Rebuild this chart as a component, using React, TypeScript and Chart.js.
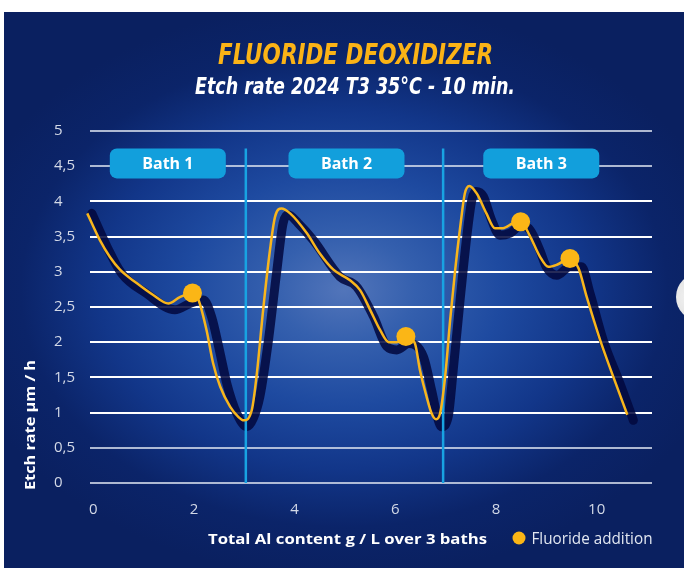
import React, { useEffect, useRef } from 'react';
import { Chart, registerables } from 'chart.js';

Chart.register(...registerables);

// ---------- data ----------
const titleText = 'FLUORIDE DEOXIDIZER';
const subtitleText = 'Etch rate 2024 T3 35°C - 10 min.';
const xAxisTitle = 'Total Al content g / L over 3 baths';
const yAxisTitle = 'Etch rate µm / h';
const legendLabel = 'Fluoride addition';

const bathLabels = ['Bath 1', 'Bath 2', 'Bath 3'];
const bathCenters = [1.48, 5.03, 8.9];
const bathBoundaries = [3.03, 6.95];

const xTicks = [0, 2, 4, 6, 8, 10];
const xTickLabels = ['0', '2', '4', '6', '8', '10'];
const yTickLabels = ['0', '0,5', '1', '1,5', '2', '2,5', '3', '3,5', '4', '4,5', '5'];

// Etch rate (yellow curve): [Al content g/L, µm/h]
const yellowCurve: [number, number][] = [
  [-0.12, 3.83], [0.13, 3.45], [0.33, 3.21], [0.53, 3.03], [0.86, 2.84], [1.19, 2.67],
  [1.49, 2.55], [1.72, 2.64], [1.97, 2.7], [2.09, 2.6], [2.25, 2.17], [2.38, 1.7],
  [2.52, 1.37], [2.72, 1.08], [2.88, 0.94], [2.99, 0.89], [3.15, 1.04], [3.25, 1.56],
  [3.38, 2.5], [3.51, 3.31], [3.61, 3.78], [3.74, 3.9], [3.91, 3.83], [4.24, 3.55],
  [4.5, 3.26], [4.77, 3.03], [5.1, 2.88], [5.3, 2.74], [5.5, 2.46], [5.7, 2.17],
  [5.87, 2.0], [6.03, 2.0], [6.21, 2.08], [6.39, 1.98], [6.49, 1.6], [6.62, 1.23],
  [6.72, 0.99], [6.81, 0.905], [6.89, 0.99], [6.99, 1.51], [7.09, 2.32], [7.19, 3.03],
  [7.29, 3.64], [7.38, 4.11], [7.47, 4.22], [7.62, 4.11], [7.81, 3.83], [7.98, 3.62],
  [8.14, 3.62], [8.34, 3.69], [8.49, 3.71], [8.68, 3.5], [8.87, 3.22], [9.04, 3.07],
  [9.21, 3.1], [9.47, 3.19], [9.64, 3.05], [9.8, 2.65], [10.07, 2.03], [10.33, 1.51],
  [10.61, 0.97],
];

// Dark shadow curve
const shadowCurve: [number, number][] = [
  [-0.03, 3.83], [0.27, 3.36], [0.56, 2.98], [1.06, 2.69], [1.62, 2.46], [1.92, 2.55],
  [2.19, 2.6], [2.35, 2.36], [2.52, 1.84], [2.65, 1.42], [2.85, 0.99], [3.05, 0.8],
  [3.18, 0.92], [3.31, 1.23], [3.48, 2.03], [3.64, 2.98], [3.77, 3.69], [3.87, 3.81],
  [4.07, 3.69], [4.37, 3.45], [4.9, 2.93], [5.23, 2.79], [5.57, 2.36], [5.83, 1.94],
  [6.03, 1.89], [6.27, 1.98], [6.56, 1.79], [6.72, 1.32], [6.85, 0.9], [6.92, 0.8],
  [7.05, 0.94], [7.15, 1.6], [7.28, 2.55], [7.42, 3.5], [7.52, 4.02], [7.6, 4.14],
  [7.75, 4.07], [7.91, 3.74], [8.08, 3.52], [8.28, 3.55], [8.5, 3.66], [8.68, 3.59],
  [8.87, 3.31], [9.0, 3.07], [9.21, 2.95], [9.47, 3.07], [9.7, 3.07], [9.87, 2.69],
  [10.13, 2.03], [10.46, 1.42], [10.73, 0.89],
];

const fluorideAdditions: [number, number][] = [
  [1.97, 2.7], [6.21, 2.08], [8.49, 3.71], [9.47, 3.19],
];

// ---------- styles ----------
const YELLOW = '#f8b51c';
const MARKER = '#fbb616';
const SHADOW = 'rgba(2, 8, 62, 0.86)';
const BATH_BLUE = '#129fdc';
const TICK_COLOR = '#d3d9e7';
const SANS = '"Open Sans", "Noto Sans", sans-serif';
const TITLE_FONT = '"Liberation Sans Narrow", "DejaVu Sans Condensed", "Open Sans", sans-serif';

function drawFitted(
  ctx: CanvasRenderingContext2D,
  text: string,
  x: number,
  y: number,
  width: number,
  align: CanvasTextAlign,
) {
  const m = ctx.measureText(text).width;
  const s = m > 0 ? width / m : 1;
  ctx.save();
  ctx.translate(x, y);
  ctx.scale(s, 1);
  ctx.textAlign = align;
  ctx.fillText(text, 0, 0);
  ctx.restore();
}

const overlayPlugin = {
  id: 'overlay',
  afterDatasetDraw(chart: any, args: any) {
    if (args.index !== 2) return;
    const { ctx, scales } = chart;
    const xs = scales.x;
    const ys = scales.y;
    ctx.save();
    ctx.strokeStyle = '#18a3e2';
    ctx.lineWidth = 2.5;
    bathBoundaries.forEach((b) => {
      const px = xs.getPixelForValue(b);
      ctx.beginPath();
      ctx.moveTo(px, ys.getPixelForValue(4.75));
      ctx.lineTo(px, ys.getPixelForValue(0));
      ctx.stroke();
    });
    ctx.restore();
  },
  afterDraw(chart: any) {
    const { ctx, scales } = chart;
    const xs = scales.x;
    const ys = scales.y;
    ctx.save();

    // bath boxes
    const cy = ys.getPixelForValue(4.54);
    bathLabels.forEach((label, i) => {
      const cx = xs.getPixelForValue(bathCenters[i]);
      const w = 116;
      const h = 30;
      ctx.fillStyle = BATH_BLUE;
      ctx.beginPath();
      (ctx as any).roundRect(cx - w / 2, cy - h / 2, w, h, 7);
      ctx.fill();
      ctx.fillStyle = '#ffffff';
      ctx.font = `bold 16px ${SANS}`;
      ctx.textBaseline = 'middle';
      ctx.textAlign = 'center';
      ctx.fillText(label, cx, cy + 1);
    });

    // titles
    ctx.textBaseline = 'alphabetic';
    ctx.fillStyle = '#fbb316';
    ctx.font = `italic bold 29px ${TITLE_FONT}`;
    drawFitted(ctx, titleText, 351.5, 51.5, 275, 'center');
    ctx.fillStyle = '#ffffff';
    ctx.font = `italic bold 23px ${TITLE_FONT}`;
    drawFitted(ctx, subtitleText, 351, 81.5, 320, 'center');

    // x axis title
    ctx.fillStyle = '#ffffff';
    ctx.font = `bold 15px ${SANS}`;
    drawFitted(ctx, xAxisTitle, 343.5, 532, 279, 'center');

    // legend
    ctx.fillStyle = MARKER;
    ctx.beginPath();
    ctx.arc(515, 526, 6.5, 0, Math.PI * 2);
    ctx.fill();
    ctx.fillStyle = '#e2e7f1';
    ctx.font = `16px ${SANS}`;
    drawFitted(ctx, legendLabel, 527.5, 532, 121, 'left');

    // y axis title
    ctx.save();
    ctx.translate(27, 413);
    ctx.rotate(-Math.PI / 2);
    ctx.fillStyle = '#ffffff';
    ctx.font = `bold 15px ${SANS}`;
    ctx.textBaseline = 'middle';
    drawFitted(ctx, yAxisTitle, 0, 0, 130, 'center');
    ctx.restore();

    ctx.restore();
  },
};

export default function App() {
  const canvasRef = useRef<HTMLCanvasElement | null>(null);

  useEffect(() => {
    if (!canvasRef.current) return;
    const toPts = (arr: [number, number][]) => arr.map(([x, y]) => ({ x, y }));
    const chart = new Chart(canvasRef.current, {
      type: 'line',
      data: {
        datasets: [
          {
            label: legendLabel,
            data: toPts(fluorideAdditions),
            showLine: false,
            pointRadius: 9.5,
            pointBackgroundColor: MARKER,
            pointBorderWidth: 0,
            order: 0,
          } as any,
          {
            label: 'Etch rate',
            data: toPts(yellowCurve),
            borderColor: YELLOW,
            borderWidth: 2.5,
            pointRadius: 0,
            cubicInterpolationMode: 'monotone',
            clip: false,
            order: 1,
          } as any,
          {
            label: 'Shadow',
            data: toPts(shadowCurve),
            borderColor: SHADOW,
            borderWidth: 9,
            borderCapStyle: 'round',
            borderJoinStyle: 'round',
            pointRadius: 0,
            cubicInterpolationMode: 'monotone',
            clip: false,
            order: 2,
          } as any,
        ],
      },
      options: {
        animation: false,
        responsive: true,
        maintainAspectRatio: false,
        layout: { padding: { left: 50, right: 32, top: 119, bottom: 45 } },
        plugins: {
          legend: { display: false },
          tooltip: { enabled: false },
          title: { display: false },
        },
        scales: {
          x: {
            type: 'linear',
            min: -0.066,
            max: 11.1,
            afterBuildTicks: (axis: any) => {
              axis.ticks = xTicks.map((v) => ({ value: v }));
            },
            afterFit: (axis: any) => {
              axis.height = 40;
            },
            ticks: {
              padding: 18,
              color: TICK_COLOR,
              font: { family: SANS, size: 15 },
              callback: (_v: any, i: number) => xTickLabels[i],
            },
            grid: { display: false, drawTicks: false },
            border: { display: false },
          },
          y: {
            min: 0,
            max: 5,
            ticks: {
              stepSize: 0.5,
              padding: 15,
              crossAlign: 'far',
              color: TICK_COLOR,
              font: { family: SANS, size: 15 },
              callback: (_v: any, i: number) => yTickLabels[i],
            },
            afterFit: (axis: any) => {
              axis.width = 36;
            },
            grid: {
              drawTicks: false,
              lineWidth: 2,
              color: (c: any) => {
                const v = c.tick ? c.tick.value : 0;
                return v >= 1 && v <= 4 ? '#ffffff' : 'rgba(215,222,236,0.8)';
              },
            },
            border: { display: false },
          },
        },
      },
      plugins: [overlayPlugin],
    });
    return () => chart.destroy();
  }, []);

  return (
    <div
      style={{
        position: 'absolute',
        left: 0,
        top: 0,
        width: 684,
        height: 568,
        overflow: 'hidden',
        background: '#ffffff',
      }}
    >
      <div
        style={{
          position: 'absolute',
          left: 4,
          top: 12,
          width: 680,
          height: 556,
          background:
            'radial-gradient(ellipse 58% 52% at 50% 50%, #5275ba 0%, #3560ae 18%, #1e4aa0 40%, #123689 62%, #0b2469 82%, #0a2060 100%)',
        }}
      >
        <canvas ref={canvasRef} />
      </div>
      <div
        style={{
          position: 'absolute',
          left: 676,
          top: 273,
          width: 48,
          height: 48,
          borderRadius: '50%',
          background: 'radial-gradient(circle at 30% 50%, #f2f2f2 0%, #d6d6d6 100%)',
        }}
      />
    </div>
  );
}
